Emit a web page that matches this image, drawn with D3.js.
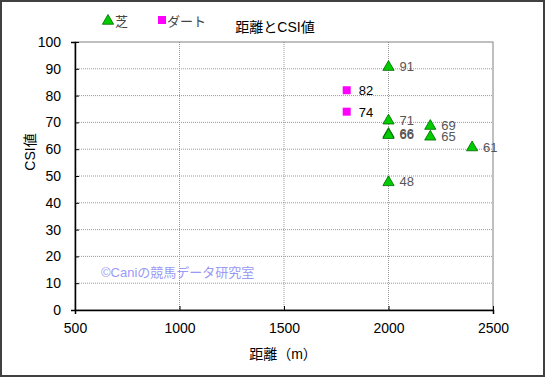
<!DOCTYPE html>
<html>
<head>
<meta charset="utf-8">
<script src="https://cdn.jsdelivr.net/npm/d3@7"></script>
<style>
  body { margin: 0; background: #fff; }
  text { font-family: "Liberation Sans", "Noto Sans CJK JP", sans-serif; }
</style>
</head>
<body>
<svg id="chart"></svg>
<script>
// turf (芝) points: distance, CSI
const turfDist = [2000, 2000, 2000, 2000, 2000, 2200, 2200, 2400];
const turfCsi  = [91, 71, 66, 65.6, 48, 69, 65, 61];
// dirt (ダート) points
const dirtDist = [1800, 1800];
const dirtCsi  = [82, 74];

const xTicks = [500, 1000, 1500, 2000, 2500];
const yTicks = [0, 10, 20, 30, 40, 50, 60, 70, 80, 90, 100];

const width = 545, height = 377;
const margin = {top: 42, left: 75, right: 52, bottom: 67};

const svg = d3.select('#chart').attr('width', width).attr('height', height);

// outer frame
svg.append('rect')
  .attr('x', 1).attr('y', 1).attr('width', width - 2).attr('height', height - 2)
  .attr('fill', '#fff').attr('stroke', '#404040').attr('stroke-width', 2);

const x = d3.scaleLinear().domain([500, 2500]).range([margin.left, width - margin.right]);
const y = d3.scaleLinear().domain([0, 100]).range([height - margin.bottom, margin.top]);

// grid
svg.append('g').selectAll('line').data(xTicks.slice(1, -1)).join('line')
  .attr('x1', d => x(d)).attr('x2', d => x(d))
  .attr('y1', y(100)).attr('y2', y(0))
  .attr('stroke', '#999').attr('stroke-dasharray', '1,1');
svg.append('g').selectAll('line').data(yTicks.slice(1, -1)).join('line')
  .attr('x1', x(500)).attr('x2', x(2500))
  .attr('y1', d => y(d)).attr('y2', d => y(d))
  .attr('stroke', '#999').attr('stroke-dasharray', '1,1');

// plot border
svg.append('rect')
  .attr('x', x(500)).attr('y', y(100))
  .attr('width', x(2500) - x(500)).attr('height', y(0) - y(100))
  .attr('fill', 'none').attr('stroke', '#808080');

// axes
const xAxis = svg.append('g')
  .attr('transform', `translate(0,${y(0)})`)
  .call(d3.axisBottom(x).tickValues(xTicks).tickFormat(d3.format('d')).tickSize(4).tickPadding(9));
const yAxis = svg.append('g')
  .attr('transform', `translate(${x(500)},0)`)
  .call(d3.axisLeft(y).tickValues(yTicks).tickSize(4).tickPadding(10));
[xAxis, yAxis].forEach(a => {
  a.select('.domain').attr('stroke', '#000').attr('stroke-width', 1.5);
  a.selectAll('text').attr('font-size', 14).attr('fill', '#000');
  a.selectAll('.tick line').attr('stroke', '#000');
});
yAxis.selectAll('.tick line').attr('transform', 'translate(4,0)');
xAxis.selectAll('.tick line').attr('transform', 'translate(0,-4)');

// titles
svg.append('text').attr('x', 275).attr('y', 32).attr('text-anchor', 'middle')
  .attr('font-size', 14).text('距離とCSI値');
svg.append('text').attr('x', 283).attr('y', 359).attr('text-anchor', 'middle')
  .attr('font-size', 14).text('距離（m）');
svg.append('text').attr('transform', 'translate(35,152) rotate(-90)')
  .attr('text-anchor', 'middle').attr('font-size', 14).text('CSI値');

// watermark
svg.append('text').attr('x', 101).attr('y', 277).attr('font-size', 13)
  .attr('fill', '#9a9af5').text('©Caniの競馬データ研究室');

// points
const tri = d3.symbol().type(d3.symbolTriangle).size(55);
const turf = turfDist.map((d, i) => ({d, v: turfCsi[i]}));
const dirt = dirtDist.map((d, i) => ({d, v: dirtCsi[i]}));

svg.append('g').selectAll('path').data(turf).join('path')
  .attr('d', tri)
  .attr('transform', p => `translate(${x(p.d)},${y(p.v) + 1})`)
  .attr('fill', '#00cc00').attr('stroke', '#006400').attr('stroke-width', 0.8);
svg.append('g').selectAll('text').data(turf).join('text')
  .attr('x', p => x(p.d) + 11).attr('y', p => y(p.v) + 5)
  .attr('font-size', 13).attr('fill', '#555')
  .text(p => d3.format('.0f')(p.v));

svg.append('g').selectAll('rect').data(dirt).join('rect')
  .attr('x', p => x(p.d) - 4).attr('y', p => y(p.v) - 4)
  .attr('width', 8).attr('height', 8).attr('fill', '#ff00ff');
svg.append('g').selectAll('text').data(dirt).join('text')
  .attr('x', p => x(p.d) + 12).attr('y', p => y(p.v) + 5)
  .attr('font-size', 13).attr('fill', '#000')
  .text(p => d3.format('.0f')(p.v));

// legend
const leg = svg.append('g');
leg.append('path').attr('d', tri).attr('transform', 'translate(108,21)')
  .attr('fill', '#00cc00').attr('stroke', '#006400').attr('stroke-width', 0.8);
leg.append('text').attr('x', 115).attr('y', 26).attr('font-size', 13).attr('fill', '#444').text('芝');
leg.append('rect').attr('x', 158).attr('y', 16).attr('width', 8).attr('height', 8).attr('fill', '#ff00ff');
leg.append('text').attr('x', 167).attr('y', 26).attr('font-size', 13).attr('fill', '#444').text('ダート');
</script>
</body>
</html>
